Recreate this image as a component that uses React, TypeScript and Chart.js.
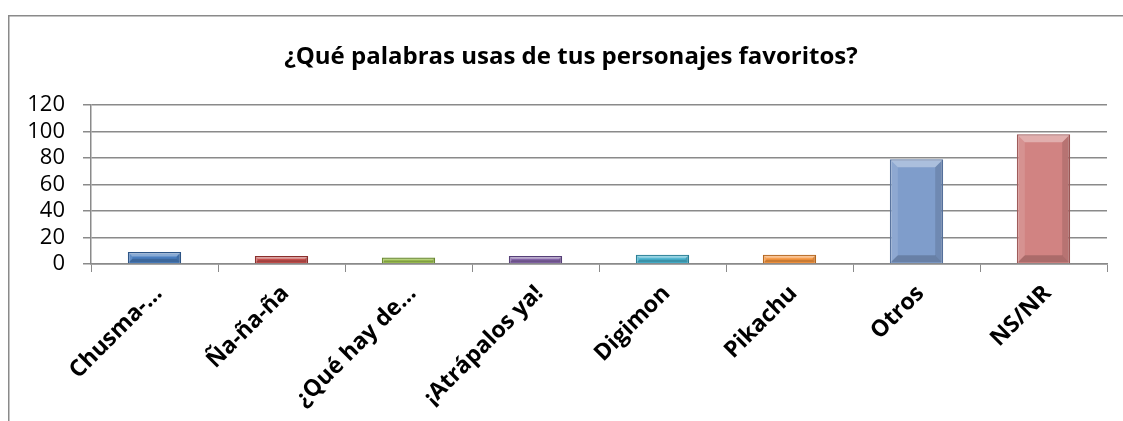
import React, { useEffect, useRef } from "react";
import { Chart, registerables } from "chart.js";

Chart.register(...registerables);

const categories = [
  "Chusma-…",
  "Ña-ña-ña",
  "¿Qué hay de…",
  "¡Atrápalos ya!",
  "Digimon",
  "Pikachu",
  "Otros",
  "NS/NR",
];
const values = [9, 6, 5, 6, 7, 7, 79, 98];
const barColors = [
  "#4A7EBF",
  "#C6504D",
  "#9DC151",
  "#8465A8",
  "#47B2CE",
  "#F7963F",
  "#7F9DCB",
  "#D18382",
];
const barBorders = [
  "#2C5486",
  "#8A2E2C",
  "#6A8A2E",
  "#563F78",
  "#267E95",
  "#B5661E",
  "#56729E",
  "#9E5857",
];
const yMin = 0;
const yMax = 120;
const yStep = 20;
const titleText = "¿Qué palabras usas de tus personajes favoritos?";

const FONT = "'Open Sans', 'DejaVu Sans', sans-serif";
const GRAY = "#8a8a8a";

const framePlugin = {
  id: "frameAndTitle",
  beforeDraw(chart: any) {
    const ctx = chart.ctx;
    ctx.save();
    ctx.strokeStyle = GRAY;
    ctx.lineWidth = 1.5;
    ctx.beginPath();
    ctx.moveTo(8.75, chart.height);
    ctx.lineTo(8.75, 15.75);
    ctx.lineTo(chart.width, 15.75);
    ctx.stroke();
    ctx.restore();
  },
  afterDatasetsDraw(chart: any) {
    const ctx = chart.ctx;
    const meta = chart.getDatasetMeta(0);
    ctx.save();
    meta.data.forEach((bar: any) => {
      const left = bar.x - bar.width / 2 + 1;
      const right = bar.x + bar.width / 2 - 1;
      const top = bar.y + 1;
      const bottom = bar.base - 1;
      const h = bottom - top;
      if (h <= 2) return;
      const b = Math.min(7, h / 2.6);
      const poly = (pts: number[][], style: string) => {
        ctx.beginPath();
        ctx.moveTo(pts[0][0], pts[0][1]);
        for (let i = 1; i < pts.length; i++) ctx.lineTo(pts[i][0], pts[i][1]);
        ctx.closePath();
        ctx.fillStyle = style;
        ctx.fill();
      };
      poly([[left, top], [right, top], [right - b, top + b], [left + b, top + b]], "rgba(255,255,255,0.35)");
      poly([[left, top], [left + b, top + b], [left + b, bottom - b], [left, bottom]], "rgba(255,255,255,0.12)");
      poly([[right, top], [right - b, top + b], [right - b, bottom - b], [right, bottom]], "rgba(0,0,0,0.12)");
      poly([[left, bottom], [left + b, bottom - b], [right - b, bottom - b], [right, bottom]], "rgba(0,0,0,0.18)");
    });
    ctx.restore();
  },
  afterDraw(chart: any) {
    const ctx = chart.ctx;
    ctx.save();
    ctx.fillStyle = "#000";
    ctx.font = `bold 24px ${FONT}`;
    ctx.textAlign = "center";
    ctx.textBaseline = "alphabetic";
    ctx.fillText(titleText, 571, 64);
    ctx.restore();
  },
};

export default function App() {
  const ref = useRef<HTMLCanvasElement | null>(null);

  useEffect(() => {
    if (!ref.current) return;
    const chart = new Chart(ref.current, {
      type: "bar",
      data: {
        labels: categories,
        datasets: [
          {
            data: values,
            backgroundColor: barColors,
            borderColor: barBorders,
            borderWidth: 1.5,
            categoryPercentage: 1,
            barPercentage: 0.42,
          },
        ],
      },
      options: {
        responsive: false,
        animation: false,
        events: [],
        layout: { padding: { left: 8, top: 105, right: 16, bottom: 0 } },
        plugins: {
          legend: { display: false },
          title: { display: false },
          tooltip: { enabled: false },
        },
        scales: {
          x: {
            offset: true,
            grid: {
              offset: true,
              drawOnChartArea: false,
              drawTicks: true,
              tickLength: 8,
              color: GRAY,
            },
            border: { color: GRAY, width: 1.5 },
            ticks: {
              minRotation: 45,
              maxRotation: 45,
              autoSkip: false,
              padding: 8,
              labelOffset: 4,
              color: "#000",
              font: { family: FONT, size: 23, weight: "bold" },
            },
            afterFit: (s: any) => {
              s.height = 157;
            },
          },
          y: {
            min: yMin,
            max: yMax,
            grid: { color: GRAY, tickLength: 8, lineWidth: 1.5 },
            border: { color: GRAY, width: 1.5 },
            ticks: {
              stepSize: yStep,
              autoSkip: false,
              padding: 18,
              color: "#000",
              font: { family: FONT, size: 22 },
            },
            afterFit: (s: any) => {
              s.width = 83;
            },
          },
        },
      },
      plugins: [framePlugin],
    });
    return () => chart.destroy();
  }, []);

  return (
    <div style={{ position: "fixed", left: 0, top: 0, width: 1123, height: 421, background: "#fff" }}>
      <canvas ref={ref} width={1123} height={421} style={{ display: "block" }} />
    </div>
  );
}
